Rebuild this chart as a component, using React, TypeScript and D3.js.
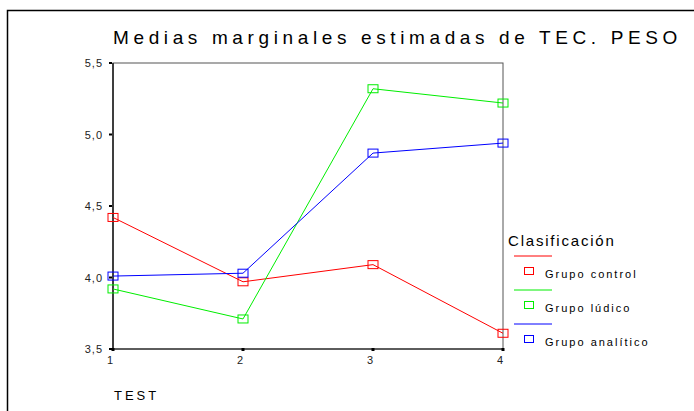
import React from "react";
import * as d3 from "d3";

const categories = [1, 2, 3, 4];
const seriesNames = ["Grupo control", "Grupo lúdico", "Grupo analítico"];
const seriesColors = ["#ff0000", "#00ee00", "#0000ff"];
const control = [4.42, 3.97, 4.09, 3.61];
const ludico = [3.92, 3.71, 5.32, 5.22];
const analitico = [4.01, 4.03, 4.87, 4.94];
const yTicks = [3.5, 4.0, 4.5, 5.0, 5.5];
const yTickLabels = ["3,5", "4,0", "4,5", "5,0", "5,5"];
const title = "Medias marginales estimadas de TEC. PESO";
const xTitle = "TEST";
const legendTitle = "Clasificación";

export default function App() {
  const W = 694, H = 411;
  const left = 113, right = 503, top = 63, bottom = 349;
  const x = d3.scaleLinear().domain([1, 4]).range([left, right]);
  const y = d3.scaleLinear().domain([3.5, 5.5]).range([bottom, top]);
  const series = [control, ludico, analitico];
  const line = d3.line<number>().x((_, i) => x(categories[i])).y((d) => y(d));
  const font = "'Liberation Sans', Arial, sans-serif";
  return (
    <svg width={W} height={H} style={{ position: "absolute", left: 0, top: 0 }}>
      <rect x={0} y={0} width={W} height={H} fill="#fff" />
      <path d={`M7.5,${H} V10.5 H${W}`} stroke="#000" strokeWidth={1.5} fill="none" />
      <text x={113} y={44} textAnchor="start" fontFamily={font} fontSize={19} letterSpacing={4.7} fill="#000" textLength={569} lengthAdjust="spacing">{title}</text>
      <rect x={left} y={top} width={right - left} height={bottom - top} fill="none" stroke="#555" strokeWidth={1} />
      <line x1={left} x2={left} y1={top} y2={bottom} stroke="#333" strokeWidth={1.8} />
      <line x1={left} x2={right} y1={bottom} y2={bottom} stroke="#111" strokeWidth={1.2} />
      {yTicks.map((t, i) => (
        <g key={t}>
          <rect x={left - 4} y={y(t) - 1} width={3} height={2} fill="#000" />
          <text x={left - 10} y={y(t) + 4} textAnchor="end" fontFamily={font} fontSize={11} letterSpacing={1} fill="#222">{yTickLabels[i]}</text>
        </g>
      ))}
      {categories.map((c) => (
        <g key={c}>
          <rect x={x(c) - 1.5} y={bottom - 1} width={3} height={3} fill="#000" />
          <text x={x(c) - 3} y={bottom + 15} textAnchor="middle" fontFamily={font} fontSize={11} fill="#222">{c}</text>
        </g>
      ))}
      <text x={left + 1} y={400} fontFamily={font} fontSize={13} letterSpacing={3} fill="#000">{xTitle}</text>
      {series.map((s, si) => (
        <g key={si}>
          <path d={line(s) || ""} fill="none" stroke={seriesColors[si]} strokeWidth={1} />
          {s.map((v, i) => (
            <rect key={i} x={x(categories[i]) - 5} y={y(v) - 4} width={10} height={8} fill="none" stroke={seriesColors[si]} strokeWidth={1} />
          ))}
        </g>
      ))}
      <text x={508} y={246} fontFamily={font} fontSize={15} letterSpacing={1.8} fill="#000">{legendTitle}</text>
      {seriesNames.map((n, i) => {
        const ly = 256 + i * 34;
        return (
          <g key={n}>
            <line x1={514} x2={552} y1={ly} y2={ly} stroke={seriesColors[i]} strokeWidth={1} />
            <rect x={524.5} y={ly + 11.5} width={9} height={7} fill="none" stroke={seriesColors[i]} strokeWidth={1} />
            <text x={545} y={ly + 22} fontFamily={font} fontSize={11} letterSpacing={2} fill="#000">{n}</text>
          </g>
        );
      })}
    </svg>
  );
}
